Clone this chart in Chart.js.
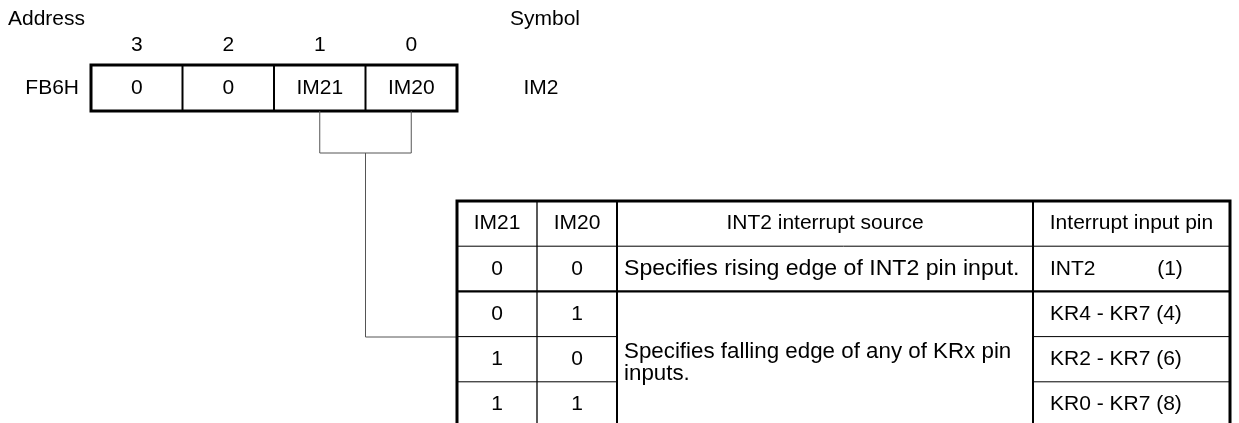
<!DOCTYPE html>
<html>
<head>
<meta charset="utf-8">
<script src="https://cdn.jsdelivr.net/npm/chart.js@4.4.0/dist/chart.umd.min.js"></script>
<style>
  html, body { margin: 0; padding: 0; background: #fff; }
  #wrap { width: 1239px; height: 423px; }
</style>
</head>
<body>
<div id="wrap"><canvas id="reg-chart" width="1239" height="423"></canvas></div>
<script>
// register data
const address = 'FB6H';
const symbol = 'IM2';
const bitNumbers = ['3', '2', '1', '0'];
const bitNames = ['0', '0', 'IM21', 'IM20'];

// table data
const tableHeaders = ['IM21', 'IM20', 'INT2 interrupt source', 'Interrupt input pin'];
const im21Values = ['0', '0', '1', '1'];
const im20Values = ['0', '1', '0', '1'];
const sourceTexts = ['Specifies rising edge of INT2 pin input.', 'Specifies falling edge of any of KRx pin\ninputs.'];
const sourceSpans = [1, 3];
const pinTexts = ['INT2', 'KR4 - KR7', 'KR2 - KR7', 'KR0 - KR7'];
const pinCounts = ['(1)', '(4)', '(6)', '(8)'];

// layout (pixels in scale units)
const REG_LEFT = 91, REG_TOP = 65, REG_CELL_W = 91.5, REG_H = 46;
const BRACKET_Y = 153, LINK_Y = 337;
const TAB_LEFT = 457, TAB_TOP = 201, ROW_H = 45.2;
const COL_X = [457, 537, 617, 1033, 1230];
const SOURCE_STRETCH = [1.05, 1.015];   // the source column text is set a bit wider
const FONT = '21px "Liberation Sans", Arial, sans-serif';
const SOURCE_FONT = '22px "Liberation Sans", Arial, sans-serif';

const diagram = {
  id: 'register_diagram',
  afterDraw: (chart) => {
    const ctx = chart.ctx;
    const sx = chart.scales.x, sy = chart.scales.y;
    const X = v => sx.getPixelForValue(v);
    const Y = v => sy.getPixelForValue(v);

    function line(x1, y1, x2, y2, w, color) {
      ctx.beginPath();
      ctx.lineWidth = w;
      ctx.strokeStyle = color || '#000';
      ctx.moveTo(X(x1), Y(y1));
      ctx.lineTo(X(x2), Y(y2));
      ctx.stroke();
    }
    function text(t, x, y, align) {
      ctx.textAlign = align || 'center';
      ctx.fillText(t, X(x), Y(y));
    }
    function stretchedText(t, x, y, k) {
      ctx.save();
      ctx.textAlign = 'left';
      ctx.translate(X(x), Y(y));
      ctx.scale(k, 1);
      ctx.fillText(t, 0, 0);
      ctx.restore();
    }

    ctx.save();
    ctx.font = FONT;
    ctx.fillStyle = '#000';
    ctx.textBaseline = 'middle';

    text('Address', 8, 19, 'left');
    text('Symbol', 510, 19, 'left');

    // register box
    const regRight = REG_LEFT + REG_CELL_W * bitNames.length;
    bitNumbers.forEach((b, i) => {
      const cx = REG_LEFT + REG_CELL_W * (i + 0.5);
      text(b, cx, 45);
      text(bitNames[i], cx, 88);
      if (i > 0) line(REG_LEFT + REG_CELL_W * i, REG_TOP, REG_LEFT + REG_CELL_W * i, REG_TOP + REG_H, 2);
    });
    ctx.lineWidth = 3;
    ctx.strokeStyle = '#000';
    ctx.strokeRect(X(REG_LEFT), Y(REG_TOP), X(regRight) - X(REG_LEFT), Y(REG_TOP + REG_H) - Y(REG_TOP));
    text(address, 79, 88, 'right');
    text(symbol, 541, 88);

    // bracket from IM21/IM20 to the table
    const c1 = REG_LEFT + REG_CELL_W * 2.5, c0 = REG_LEFT + REG_CELL_W * 3.5;
    const mid = (c1 + c0) / 2;
    const grey = '#555';
    line(c1, REG_TOP + REG_H, c1, BRACKET_Y, 1, grey);
    line(c0, REG_TOP + REG_H, c0, BRACKET_Y, 1, grey);
    line(c1, BRACKET_Y, c0, BRACKET_Y, 1, grey);
    line(mid, BRACKET_Y, mid, LINK_Y, 1, grey);
    line(mid, LINK_Y, TAB_LEFT, LINK_Y, 1, grey);

    // table
    const nRows = im21Values.length + 1;
    const tabBottom = TAB_TOP + ROW_H * nRows;
    tableHeaders.forEach((h, i) => text(h, (COL_X[i] + COL_X[i + 1]) / 2, TAB_TOP + ROW_H / 2));
    im21Values.forEach((v, r) => {
      const cy = TAB_TOP + ROW_H * (r + 1.5);
      text(v, (COL_X[0] + COL_X[1]) / 2, cy);
      text(im20Values[r], (COL_X[1] + COL_X[2]) / 2, cy);
      if (r === 0) {
        text(pinTexts[r], COL_X[3] + 17, cy, 'left');
        text(pinCounts[r], COL_X[3] + 137, cy, 'center');
      } else {
        text(pinTexts[r] + ' ' + pinCounts[r], COL_X[3] + 17, cy, 'left');
      }
    });
    ctx.font = SOURCE_FONT;
    let r0 = 1;
    sourceTexts.forEach((s, k) => {
      const span = sourceSpans[k];
      const lines = s.split('\n');
      const cy = TAB_TOP + ROW_H * (r0 + span / 2) + (lines.length > 1 ? 4 : 0);
      lines.forEach((l, j) => stretchedText(l, COL_X[2] + 7, cy + (j - (lines.length - 1) / 2) * 22, SOURCE_STRETCH[k]));
      r0 += span;
    });
    ctx.font = FONT;

    // horizontal rules
    for (let r = 1; r < nRows; r++) {
      const y = TAB_TOP + ROW_H * r;
      const thick = r === 2;
      if (r >= 3) {
        line(COL_X[0], y, COL_X[2], y, 1);
        line(COL_X[3], y, COL_X[4], y, 1);
      } else {
        line(COL_X[0], y, COL_X[4], y, thick ? 2.2 : 1);
      }
    }
    // vertical rules
    line(COL_X[1], TAB_TOP, COL_X[1], tabBottom, 1.3);
    line(COL_X[2], TAB_TOP, COL_X[2], tabBottom, 2);
    line(COL_X[3], TAB_TOP, COL_X[3], tabBottom, 2);
    ctx.lineWidth = 3;
    ctx.strokeStyle = '#000';
    ctx.strokeRect(X(COL_X[0]), Y(TAB_TOP), X(COL_X[4]) - X(COL_X[0]), Y(tabBottom) - Y(TAB_TOP));

    ctx.restore();
  }
};

const config = {
  type: 'scatter',
  data: { datasets: [{ data: [] }] },
  options: {
    responsive: false,
    animation: false,
    layout: { padding: 0 },
    scales: {
      x: { type: 'linear', min: 0, max: 1239, display: false },
      y: { type: 'linear', min: 0, max: 423, reverse: true, display: false }
    },
    plugins: {
      legend: { display: false },
      tooltip: { enabled: false }
    }
  },
  plugins: [diagram]
};

new Chart(document.getElementById('reg-chart'), config);
</script>
</body>
</html>
